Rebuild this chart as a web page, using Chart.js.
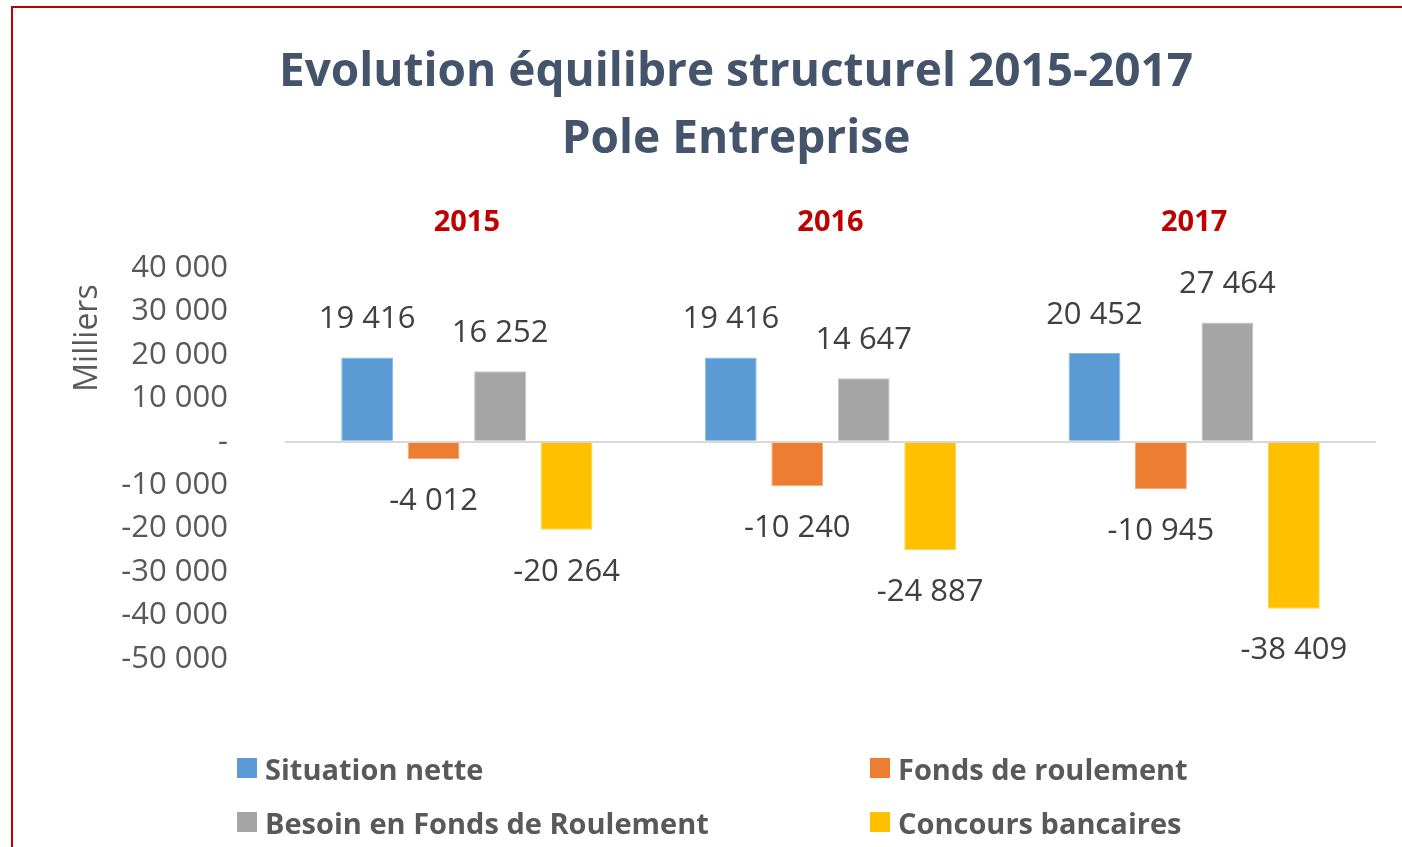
<!DOCTYPE html>
<html>
<head>
<meta charset="utf-8">
<script src="https://cdn.jsdelivr.net/npm/chart.js@4.4.1/dist/chart.umd.min.js"></script>
<style>
  html, body { margin: 0; padding: 0; background: #fff; overflow: hidden; }
  #wrap { position: relative; width: 1402px; height: 847px; }
  #frame { position: absolute; left: 11px; top: 6px; width: 1600px; height: 1200px; border: 2px solid #C00000; box-sizing: border-box; }
  #chart { position: absolute; left: 0; top: 0; }
  .leg { position: absolute; height: 40px; display: flex; align-items: center; font-family: "Open Sans", sans-serif; font-weight: 700; font-size: 29px; color: #595959; white-space: nowrap; }
  .leg span.box { display: inline-block; width: 20px; height: 20px; margin-right: 8px; }
</style>
</head>
<body>
<div id="wrap">
  <div id="frame"></div>
  <canvas id="chart" width="1402" height="847"></canvas>
  <div id="legend"></div>
</div>
<script>
const years = ['2015', '2016', '2017'];
const seriesNames = ['Situation nette', 'Fonds de roulement', 'Besoin en Fonds de Roulement', 'Concours bancaires'];
const situationNette = [19416, 19416, 20452];
const fondsRoulement = [-4012, -10240, -10945];
const besoinFR = [16252, 14647, 27464];
const concoursBancaires = [-20264, -24887, -38409];
const seriesColors = ['#5B9BD5', '#ED7D31', '#A5A5A5', '#FFC000'];
const borderColors = ['#8DB9E4', '#F3A876', '#C4C4C4', '#FFD24D'];
const yTicks = [40000, 30000, 20000, 10000, 0, -10000, -20000, -30000, -40000, -50000];

const FONT = '"Open Sans", sans-serif';

function fmt(v) {
    if (v === 0) return '-';
    const s = Math.abs(Math.round(v)).toString().replace(/\B(?=(\d{3})+(?!\d))/g, ' ');
    return (v < 0 ? '-' : '') + s;
}

// data labels above / below the bars
const barLabels = {
    id: 'barLabels',
    afterDatasetsDraw(chart) {
        const ctx = chart.ctx;
        ctx.save();
        ctx.font = '31px ' + FONT;
        ctx.fillStyle = '#404040';
        ctx.textAlign = 'center';
        ctx.textBaseline = 'middle';
        chart.data.datasets.forEach((ds, i) => {
            chart.getDatasetMeta(i).data.forEach((bar, j) => {
                const v = ds.data[j];
                const y = v >= 0 ? bar.y - 38 : bar.y + 42;
                ctx.fillText(fmt(v), bar.x, y);
            });
        });
        ctx.restore();
    }
};

// "Milliers" display-unit label
const unitLabel = {
    id: 'unitLabel',
    afterDraw(chart) {
        const ctx = chart.ctx;
        ctx.save();
        ctx.translate(88, 338);
        ctx.rotate(-Math.PI / 2);
        ctx.font = '32px ' + FONT;
        ctx.fillStyle = '#595959';
        ctx.textAlign = 'center';
        ctx.textBaseline = 'middle';
        ctx.fillText('Milliers', 0, 0);
        ctx.restore();
    }
};

const allValues = [situationNette, fondsRoulement, besoinFR, concoursBancaires];

new Chart(document.getElementById('chart'), {
    type: 'bar',
    data: {
        labels: years,
        datasets: seriesNames.map((name, i) => ({
            label: name,
            data: allValues[i],
            backgroundColor: seriesColors[i],
            borderColor: borderColors[i],
            borderWidth: 1,
            categoryPercentage: 0.731,
            barPercentage: 0.78
        }))
    },
    options: {
        responsive: false,
        animation: false,
        layout: { padding: { left: 96, right: 26, top: 0, bottom: 188 } },
        plugins: {
            legend: { display: false },
            tooltip: { enabled: false },
            title: {
                display: true,
                text: ['Evolution équilibre structurel 2015-2017', 'Pole Entreprise'],
                color: '#44546A',
                font: { family: FONT, size: 46, weight: '700', lineHeight: 1.4565 },
                padding: { top: 39, bottom: 15 }
            }
        },
        scales: {
            x: {
                position: 'top',
                grid: { display: false, drawTicks: false },
                border: { display: false },
                ticks: {
                    color: '#C00000',
                    font: { family: FONT, size: 29, weight: '700' },
                    padding: 28
                },
                afterFit(scale) { scale.height = 80; }
            },
            y: {
                min: -50000,
                max: 40000,
                afterBuildTicks(scale) { scale.ticks = yTicks.map(v => ({ value: v })); },
                grid: {
                    drawTicks: false,
                    lineWidth: 2,
                    color: c => (c.tick && c.tick.value === 0 ? '#D9D9D9' : 'rgba(0,0,0,0)')
                },
                border: { display: false },
                ticks: {
                    color: '#595959',
                    font: { family: FONT, size: 31 },
                    padding: 57,
                    callback: v => fmt(v)
                },
                afterFit(scale) { scale.width = 189; }
            }
        }
    },
    plugins: [barLabels, unitLabel]
});

// legend, two columns
const legPos = [[237, 769], [870, 769], [237, 823], [870, 823]];
const legend = document.getElementById('legend');
seriesNames.forEach((name, i) => {
    const d = document.createElement('div');
    d.className = 'leg';
    d.style.left = legPos[i][0] + 'px';
    d.style.top = (legPos[i][1] - 21) + 'px';
    d.innerHTML = '<span class="box" style="background:' + seriesColors[i] + '"></span>' + name;
    legend.appendChild(d);
});
</script>
</body>
</html>
